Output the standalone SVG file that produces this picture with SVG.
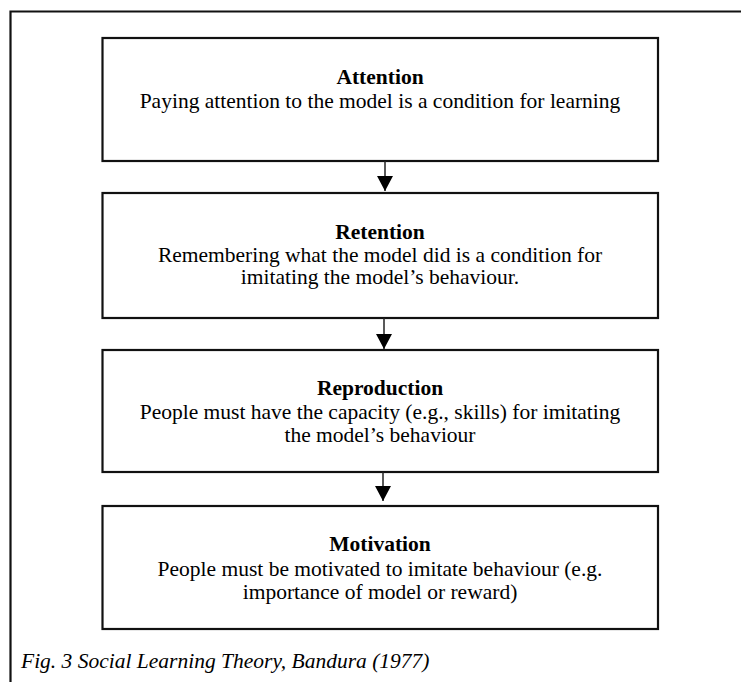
<svg xmlns="http://www.w3.org/2000/svg" width="741" height="682" viewBox="0 0 741 682">
  <defs>
    <marker id="arrowhead" markerWidth="15" markerHeight="16" refX="15" refY="8" orient="auto" markerUnits="userSpaceOnUse" viewBox="0 0 15 16">
      <path d="M0,0 L15,8 L0,16 Z" fill="#000"/>
    </marker>
  </defs>
  <style>
    .frame { fill: none; stroke: #111; stroke-width: 2.2; }
    .box { fill: #fff; stroke: #111; stroke-width: 2.2; }
    .title { font-family: "Liberation Serif", "Times New Roman", serif; font-size: 21.5px; font-weight: bold; fill: #000; text-anchor: middle; }
    .body { font-family: "Liberation Serif", "Times New Roman", serif; font-size: 21.5px; fill: #000; text-anchor: middle; }
    .caption { font-family: "Liberation Serif", "Times New Roman", serif; font-size: 21.5px; font-style: italic; fill: #000; }
    .link { stroke: #222; stroke-width: 1.5; fill: none; }
  </style>
  <rect width="741" height="682" fill="#fff"/>
  <!-- outer figure frame, open to the right and bottom -->
  <path class="frame" d="M741,11.5 H10.5 V682"/>

  <g id="attention">
    <rect class="box" x="102.5" y="38" width="555.5" height="123"/>
    <text class="title" x="380" y="84">Attention</text>
    <text class="body" x="380" y="108">Paying attention to the model is a condition for learning</text>
  </g>

  <g id="retention">
    <rect class="box" x="102.5" y="193" width="555.5" height="125"/>
    <text class="title" x="380" y="239">Retention</text>
    <text class="body" x="380" y="262">Remembering what the model did is a condition for</text>
    <text class="body" x="380" y="284">imitating the model’s behaviour.</text>
  </g>

  <g id="reproduction">
    <rect class="box" x="102.5" y="350" width="555.5" height="122"/>
    <text class="title" x="380" y="395">Reproduction</text>
    <text class="body" x="380" y="419">People must have the capacity (e.g., skills) for imitating</text>
    <text class="body" x="380" y="442">the model’s behaviour</text>
  </g>

  <g id="motivation">
    <rect class="box" x="102.5" y="506" width="555.5" height="123"/>
    <text class="title" x="380" y="551">Motivation</text>
    <text class="body" x="380" y="576">People must be motivated to imitate behaviour (e.g.</text>
    <text class="body" x="380" y="599">importance of model or reward)</text>
  </g>

  <g id="connectors">
    <line class="link" x1="385" y1="161" x2="385" y2="191" marker-end="url(#arrowhead)"/>
    <line class="link" x1="384" y1="318" x2="384" y2="349" marker-end="url(#arrowhead)"/>
    <line class="link" x1="383" y1="472" x2="383" y2="501" marker-end="url(#arrowhead)"/>
  </g>

  <text class="caption" x="21" y="668">Fig. 3 Social Learning Theory, Bandura (1977)</text>
</svg>
